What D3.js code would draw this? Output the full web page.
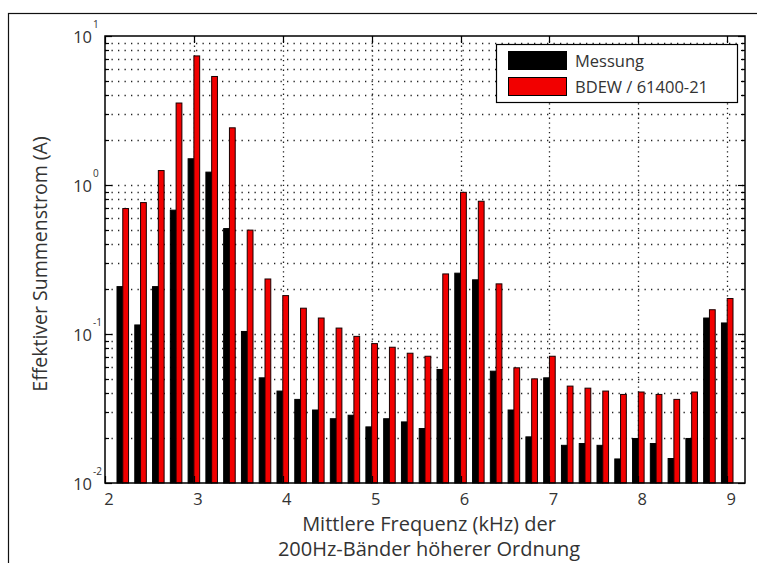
<!DOCTYPE html>
<html>
<head>
<meta charset="utf-8">
<script src="https://cdn.jsdelivr.net/npm/d3@7"></script>
<style>
  html, body { margin: 0; padding: 0; background: #fff; }
  svg { display: block; font-family: "Open Sans", "Noto Sans", sans-serif; }
</style>
</head>
<body>
<svg id="chart" width="757" height="563"></svg>
<script>
// ---- data ----
const bandCenters = [2.2, 2.4, 2.6, 2.8, 3.0, 3.2, 3.4, 3.6, 3.8, 4.0, 4.2, 4.4, 4.6, 4.8, 5.0, 5.2, 5.4, 5.6, 5.8, 6.0,
                     6.2, 6.4, 6.6, 6.8, 7.0, 7.2, 7.4, 7.6, 7.8, 8.0, 8.2, 8.4, 8.6, 8.8, 9.0];
const messung = [0.208, 0.115, 0.208, 0.678, 1.50, 1.22, 0.51, 0.104, 0.0508, 0.0414, 0.0364, 0.0309, 0.0270, 0.0285,
                 0.0238, 0.0270, 0.0257, 0.0232, 0.0578, 0.256, 0.231, 0.0563, 0.0309, 0.0204, 0.0508, 0.0179, 0.0184,
                 0.0179, 0.0145, 0.0199, 0.0184, 0.0146, 0.0199, 0.128, 0.1186];
const bdew = [0.695, 0.762, 1.25, 3.55, 7.35, 5.35, 2.42, 0.498, 0.234, 0.181, 0.149, 0.128, 0.1096, 0.0964, 0.0862,
              0.0815, 0.0743, 0.0709, 0.253, 0.893, 0.778, 0.217, 0.0593, 0.0500, 0.0709, 0.0447, 0.0433, 0.0414,
              0.0393, 0.0408, 0.0393, 0.0364, 0.0408, 0.1455, 0.173];
const xTicks = [2, 3, 4, 5, 6, 7, 8, 9];
const yDecades = [-2, -1, 0, 1];
const seriesNames = ["Messung", "BDEW / 61400-21"];
const xTitle = ["Mittlere Frequenz (kHz) der", "200Hz-Bänder höherer Ordnung"];
const yTitle = "Effektiver Summenstrom (A)";

// ---- layout ----
const L = 105, R = 745, T = 36, B = 483;
const svg = d3.select("#chart");
svg.append("rect").attr("width", 757).attr("height", 563).attr("fill", "#fff");
// outer figure border
svg.append("rect").attr("x", 8.5).attr("y", 13.5).attr("width", 800).attr("height", 600)
  .attr("fill", "none").attr("stroke", "#111").attr("stroke-width", 1.2);

const x = d3.scaleLinear().domain([2, 9.2]).range([L, R]);
const y = d3.scaleLog().domain([0.01, 10]).range([B, T]);

// grid
const minorVals = [];
yDecades.slice(0, 3).forEach(e => { for (let k = 1; k <= 9; k++) minorVals.push(k * Math.pow(10, e)); });
const g = svg.append("g");
g.selectAll(".hg").data(minorVals.filter(v => v > 0.01)).join("line")
  .attr("x1", L).attr("x2", R).attr("y1", d => Math.round(y(d)) + 0.5).attr("y2", d => Math.round(y(d)) + 0.5)
  .attr("stroke", "#222").attr("stroke-width", 1.3).attr("stroke-dasharray", "1.3,5.2");
g.selectAll(".vg").data(xTicks.slice(1)).join("line")
  .attr("x1", d => Math.round(x(d)) + 0.5).attr("x2", d => Math.round(x(d)) + 0.5).attr("y1", T).attr("y2", B)
  .attr("stroke", "#222").attr("stroke-width", 1.3).attr("stroke-dasharray", "1.3,3.5");

// bars
const bw = x(2.065) - x(2);
svg.append("g").selectAll("rect").data(bandCenters).join("rect")
  .attr("x", (d) => x(d) - bw).attr("width", bw)
  .attr("y", (d, i) => y(messung[i])).attr("height", (d, i) => B - y(messung[i]))
  .attr("fill", "#000").attr("stroke", "#000").attr("stroke-width", 1);
svg.append("g").selectAll("rect").data(bandCenters).join("rect")
  .attr("x", (d) => x(d)).attr("width", bw)
  .attr("y", (d, i) => y(bdew[i])).attr("height", (d, i) => B - y(bdew[i]))
  .attr("fill", "#f20000").attr("stroke", "#1a0000").attr("stroke-width", 1);

// frame
svg.append("rect").attr("x", L).attr("y", T).attr("width", R - L).attr("height", B - T)
  .attr("fill", "none").attr("stroke", "#000").attr("stroke-width", 1.5);

// ticks
const allY = [];
yDecades.slice(0, 3).forEach(e => { for (let k = 1; k <= 9; k++) allY.push(k * Math.pow(10, e)); });
allY.push(10);
const tk = svg.append("g").attr("stroke", "#000").attr("stroke-width", 1.2);
allY.forEach(v => {
  const yy = Math.round(y(v)) + 0.5;
  const major = Math.abs(Math.log10(v) - Math.round(Math.log10(v))) < 1e-9;
  const len = major ? 7 : 4;
  tk.append("line").attr("x1", L).attr("x2", L + len).attr("y1", yy).attr("y2", yy);
  tk.append("line").attr("x1", R).attr("x2", R - len).attr("y1", yy).attr("y2", yy);
});
xTicks.forEach(v => {
  const xx = Math.round(x(v)) + 0.5;
  tk.append("line").attr("x1", xx).attr("x2", xx).attr("y1", B).attr("y2", B - 7);
  tk.append("line").attr("x1", xx).attr("x2", xx).attr("y1", T).attr("y2", T + 7);
});

// tick labels
const txtCol = "#333";
svg.append("g").selectAll("text").data(xTicks).join("text")
  .attr("x", d => x(d) + 4).attr("y", 505).attr("text-anchor", "middle")
  .attr("font-size", 16.5).attr("fill", txtCol).text(d => d);
yDecades.forEach(e => {
  svg.append("text").attr("x", 92).attr("y", y(Math.pow(10, e)) + 7)
    .attr("text-anchor", "end").attr("font-size", 16.5).attr("fill", txtCol).text("10");
  svg.append("text").attr("x", 93).attr("y", y(Math.pow(10, e)) - 8)
    .attr("font-size", 10).attr("fill", txtCol).text(String(e));
});

// axis titles
svg.append("text").attr("transform", "translate(47,264) rotate(-90)").attr("text-anchor", "middle")
  .attr("font-size", 19.5).attr("fill", txtCol).text(yTitle);
svg.selectAll(".xt").data(xTitle).join("text")
  .attr("x", 429).attr("y", (d, i) => 531 + i * 25).attr("text-anchor", "middle")
  .attr("font-size", 20).attr("fill", txtCol).text(d => d);

// legend
const lg = svg.append("g");
lg.append("rect").attr("x", 496.5).attr("y", 44.5).attr("width", 241).attr("height", 58)
  .attr("fill", "#fff").attr("stroke", "#000").attr("stroke-width", 1.2);
const swCol = ["#000", "#f20000"];
seriesNames.forEach((s, i) => {
  lg.append("rect").attr("x", 508.5).attr("y", 51.5 + i * 26).attr("width", 58).attr("height", 18)
    .attr("fill", swCol[i]).attr("stroke", "#000").attr("stroke-width", 1);
  lg.append("text").attr("x", 575).attr("y", 67 + i * 26).attr("font-size", 16.5).attr("fill", txtCol).text(s);
});
</script>
</body>
</html>
